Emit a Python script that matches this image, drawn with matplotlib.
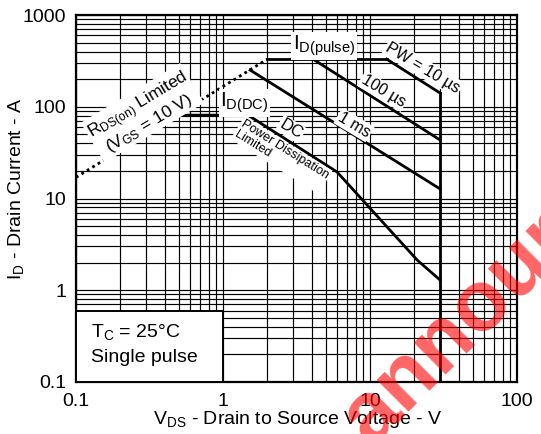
import matplotlib
matplotlib.use("Agg")
import matplotlib.pyplot as plt
from matplotlib.patches import Rectangle
from matplotlib.ticker import FixedLocator, FixedFormatter

plt.rcParams['font.family'] = 'Liberation Sans'
plt.rcParams['mathtext.fontset'] = 'custom'
plt.rcParams['mathtext.rm'] = 'Liberation Sans'
plt.rcParams['mathtext.it'] = 'Liberation Sans:italic'
plt.rcParams['mathtext.bf'] = 'Liberation Sans:bold'

# --- data (V, A) ---
rds_v = [0.1, 2.0]
rds_i = [17, 330]
pulse_v = [2.0, 13.0]
pulse_i = [330, 330]
pw10_v = [13.0, 30]
pw10_i = [330, 141]
pw100_v = [4.1, 30]
pw100_i = [330, 43.4]
pw1ms_v = [1.53, 30]
pw1ms_i = [251, 12.7]
dc_v = [0.49, 1.48, 5.96, 20.9, 30]
dc_i = [81, 81, 19.5, 2.14, 1.29]
vdss_v = [30, 30]
vdss_i = [141, 0.1]

x_ticks = [0.1, 1, 10, 100]
x_labels = ['0.1', '1', '10', '100']
y_ticks = [0.1, 1, 10, 100, 1000]
y_labels = ['0.1', '1', '10', '100', '1000']

fig = plt.figure(figsize=(5.41, 4.34), dpi=100)
ax = fig.add_axes([76 / 541, 1 - 382 / 434, 441 / 541, 367 / 434])
ax.set_xscale('log')
ax.set_yscale('log')
ax.set_xlim(0.1, 100)
ax.set_ylim(0.1, 1000)

ax.grid(True, which='both', color='black', linewidth=0.85, zorder=0)
ax.set_axisbelow(True)
for s in ax.spines.values():
    s.set_linewidth(1.6)

ax.xaxis.set_major_locator(FixedLocator(x_ticks))
ax.xaxis.set_major_formatter(FixedFormatter(x_labels))
ax.yaxis.set_major_locator(FixedLocator(y_ticks))
ax.yaxis.set_major_formatter(FixedFormatter(y_labels))
ax.tick_params(which='both', length=0, labelsize=14)
ax.tick_params(axis='x', pad=8)
ax.tick_params(axis='y', pad=7)

lw = 2.0
ax.plot(rds_v, rds_i, color='black', linestyle=(0, (1, 1.3)), linewidth=2.0, zorder=3)
ax.plot(pulse_v, pulse_i, color='black', linewidth=lw, zorder=3)
ax.plot(pw10_v, pw10_i, color='black', linewidth=lw, zorder=3)
ax.plot(pw100_v, pw100_i, color='black', linewidth=lw, zorder=3)
ax.plot(pw1ms_v, pw1ms_i, color='black', linewidth=lw, zorder=3)
ax.plot(dc_v, dc_i, color='black', linewidth=lw, zorder=3)
ax.plot(vdss_v, vdss_i, color='black', linewidth=lw, zorder=3)

wbox = dict(facecolor='white', edgecolor='none', pad=1.0)

ax.text(2.99, 415, r'I$_\mathregular{D(pulse)}$', fontsize=15, ha='left', va='baseline',
        bbox=wbox, zorder=4)
ax.text(0.955, 99.3, r'I$_\mathregular{D(DC)}$', fontsize=15, ha='left', va='baseline',
        bbox=wbox, zorder=4)
ax.text(22.9, 264, r'PW = 10 µs', fontsize=11.5, rotation=-31, ha='center', va='center',
        bbox=wbox, zorder=4)
ax.text(12.3, 148, r'100 µs', fontsize=11.5, rotation=-31, ha='center', va='center',
        bbox=wbox, zorder=4)
ax.text(7.78, 63.2, r'1 ms', fontsize=11.5, rotation=-31, ha='center', va='center',
        bbox=wbox, zorder=4)
ax.text(2.90, 57.2, r'DC', fontsize=12, rotation=-31, ha='center', va='center',
        bbox=wbox, zorder=4)
ax.text(2.50, 29.8, 'Power Dissipation\nLimited', fontsize=9, rotation=-32,
        ha='center', va='center', multialignment='left', linespacing=1.05,
        bbox=wbox, zorder=4)
ax.text(0.286, 83.4, 'R$_\\mathregular{DS(on)}$ Limited\n(V$_\\mathregular{GS}$ = 10 V)',
        fontsize=12.5, rotation=31, ha='center', va='center', multialignment='center',
        linespacing=0.95, bbox=wbox, zorder=4)

ax.add_patch(Rectangle((0.1, 0.1), 0.9, 0.5, facecolor='white', edgecolor='black',
                       linewidth=1.4, zorder=5))
ax.text(0.1265, 0.309, r'T$_\mathregular{C}$ = 25°C', fontsize=14, ha='left',
        va='baseline', zorder=6)
ax.text(0.1265, 0.165, 'Single pulse', fontsize=14, ha='left', va='baseline', zorder=6)

fig.text(298 / 541, 1 - 420 / 434, r'V$_\mathregular{DS}$ - Drain to Source Voltage - V',
         fontsize=14, ha='center', va='center')
fig.text(16 / 541, 1 - 189 / 434, r'I$_\mathregular{D}$ - Drain Current - A',
         fontsize=14, ha='center', va='center', rotation=90)

# watermark
fig.text(371 / 541, 1 - 447 / 434, 'announced', fontsize=62, weight='bold', color='red',
         alpha=0.6, rotation=45, rotation_mode='anchor', ha='left', va='baseline', zorder=10)

fig.savefig('out.png', dpi=100)
